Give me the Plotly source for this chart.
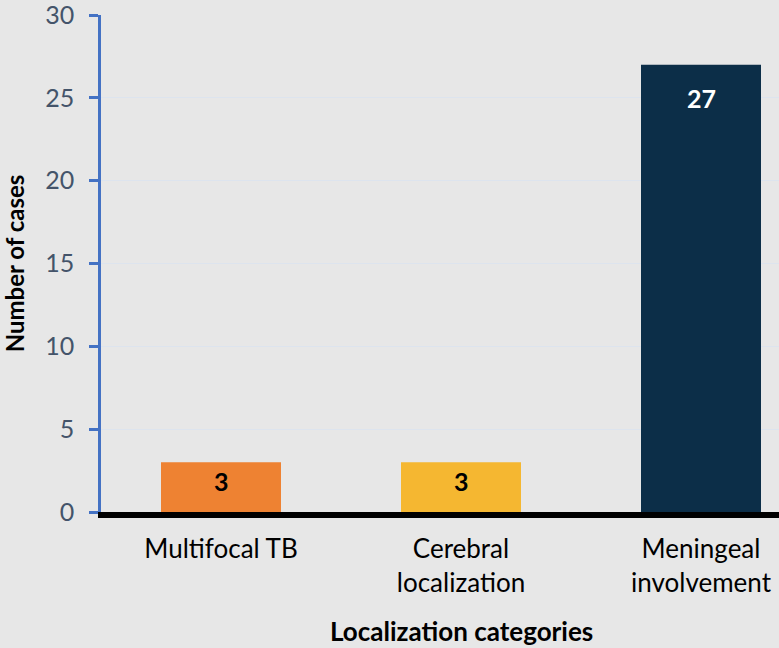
import plotly.graph_objects as go

categories = ["Multifocal TB", "Cerebral localization", "Meningeal involvement"]
tick_labels = ["Multifocal TB", "Cerebral<br>localization", "Meningeal<br>involvement"]
cases = [3, 3, 27]
colors = ["#EE8232", "#F5B731", "#0C2E48"]
label_colors = ["#000000", "#000000", "#FFFFFF"]
label_shift = [-19, -19, -33]
y_ticks = [0, 5, 10, 15, 20, 25, 30]

fig = go.Figure()
fig.add_trace(go.Bar(
    x=list(range(len(categories))),
    y=cases,
    width=0.5,
    marker=dict(color=colors, line=dict(width=0)),
    hovertext=categories,
    showlegend=False,
))

for i, v in enumerate(cases):
    fig.add_annotation(
        x=i, y=v, xref="x", yref="y", text=f"<b>{v}</b>", showarrow=False,
        yanchor="middle", yshift=label_shift[i],
        font=dict(family="Lato", size=25, color=label_colors[i]),
    )

fig.add_annotation(
    x=1, y=0, xref="x", yref="paper", yanchor="middle", yshift=-119,
    text="<b>Localization categories</b>", showarrow=False,
    font=dict(family="Lato", size=26, color="#000000"),
)

fig.update_layout(
    width=779, height=648,
    margin=dict(l=101, r=0, t=15, b=136),
    paper_bgcolor="#E7E7E7", plot_bgcolor="#E7E7E7",
    font=dict(family="Lato"),
    xaxis=dict(
        range=[-0.5, 2.325],
        tickmode="array", tickvals=list(range(len(categories))), ticktext=tick_labels,
        tickfont=dict(family="Lato", size=26, color="#000000"),
        showline=True, linecolor="#000000", linewidth=6,
        showgrid=False, zeroline=False, ticks="",
        ticklabelstandoff=9,
    ),
    yaxis=dict(
        range=[0, 30], tickmode="array", tickvals=y_ticks,
        tickfont=dict(family="Lato", size=25, color="#44546A"),
        showline=True, linecolor="#4472C4", linewidth=2.5,
        ticks="outside", ticklen=9, tickcolor="#4472C4", tickwidth=2.5,
        showgrid=True, gridcolor="#DDE4EE", gridwidth=1,
        zeroline=False,
        ticklabelstandoff=10,
        ticklabeloverflow="allow",
        automargin=False,
        title=dict(text="<b>Number of cases</b>", font=dict(family="Lato", size=24, color="#000000"), standoff=14),
    ),
)

fig.write_html("out.html")
